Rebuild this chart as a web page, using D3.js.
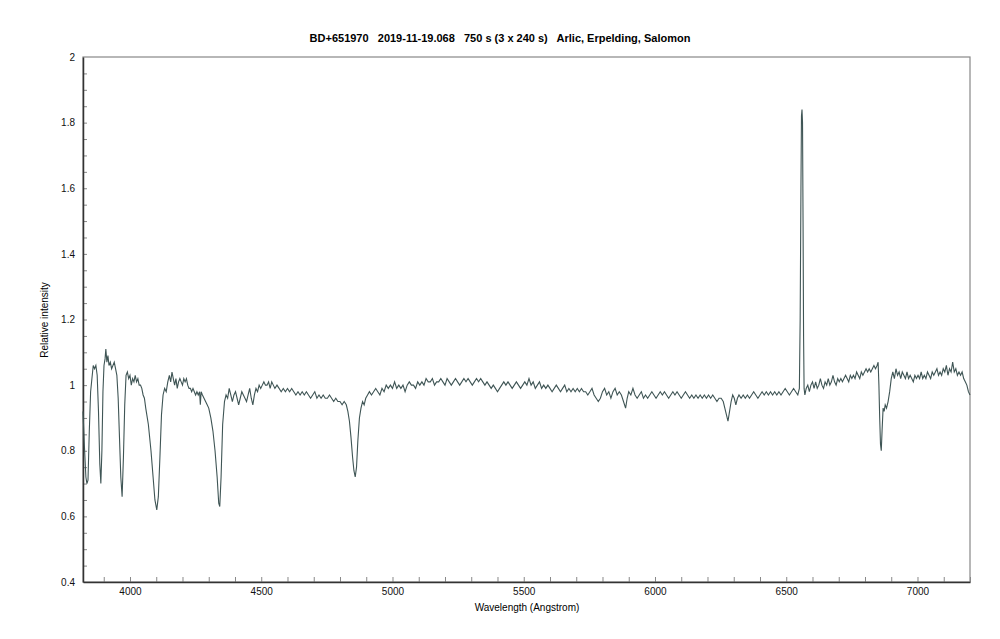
<!DOCTYPE html>
<html><head><meta charset="utf-8">
<script src="https://cdn.jsdelivr.net/npm/d3@7"></script>
<style>body{margin:0;background:#fff}text{font-family:"Liberation Sans",Arial,sans-serif}</style>
</head><body><div id="chart"></div>
<script>
const title = "BD+651970   2019-11-19.068   750 s (3 x 240 s)   Arlic, Erpelding, Salomon";
const xLabel = "Wavelength (Angstrom)";
const yLabel = "Relative intensity";
const xTicks = [4000, 4500, 5000, 5500, 6000, 6500, 7000];
const yTicks = [0.4, 0.6, 0.8, 1, 1.2, 1.4, 1.6, 1.8, 2];
// [wavelength, relative intensity]
const blueSpectrum = [
[3821,0.92],[3826,0.82],[3832,0.72],[3836,0.70],[3840,0.71],[3845,0.86],[3850,0.98],[3855,1.02],[3860,1.06],[3865,1.05],
[3870,1.06],[3875,1.03],[3880,0.92],[3885,0.76],[3889,0.70],[3893,0.80],[3897,0.98],[3901,1.06],[3905,1.08],[3908,1.11],
[3912,1.07],[3916,1.09],[3920,1.06],[3925,1.07],[3930,1.05],[3935,1.06],[3940,1.07],[3945,1.05],[3950,1.03],[3955,0.96],
[3960,0.84],[3965,0.72],[3970,0.66],[3975,0.78],[3980,0.94],[3985,1.03],[3990,1.04],[3995,1.02],[4000,1.03],[4005,1.00],
[4010,1.02],[4015,1.01],[4020,1.03],[4025,1.01],[4030,1.02],[4035,1.00],[4040,1.00],[4045,0.99],[4050,0.97],[4055,0.96],
[4060,0.93],[4070,0.88],[4080,0.80],[4088,0.72],[4095,0.65],[4102,0.62],[4108,0.66],[4114,0.78],[4120,0.91],[4126,0.97],
[4132,0.99],[4138,0.98],[4144,1.01],[4150,1.03],[4155,1.01],[4160,1.04],[4165,1.02],[4170,1.00],[4175,1.02],[4180,0.99],
[4185,1.01],[4190,1.02],[4195,1.01],[4200,1.00],[4205,1.02],[4210,1.01],[4215,1.02],[4220,1.00],[4225,0.99],[4230,0.99],
[4235,0.98],[4240,0.99],[4245,0.98],[4250,0.97],[4255,0.98],[4260,0.97],[4265,0.98],[4268,0.94],[4271,0.98],[4276,0.97],
[4282,0.96],[4288,0.95],[4294,0.94],[4300,0.93],[4308,0.90],[4316,0.86],[4324,0.80],[4332,0.72],[4338,0.64],[4342,0.63],
[4347,0.72],[4353,0.88],[4360,0.95],[4366,0.97],[4372,0.96],[4378,0.99],[4384,0.97],[4390,0.95],[4396,0.97],[4402,0.98],
[4408,0.96],[4414,0.94],[4420,0.96],[4426,0.98],[4432,0.97],[4438,0.96],[4444,0.95],[4450,0.97],[4456,0.99],[4462,0.96],
[4468,0.94],[4474,0.97],[4480,0.99],[4486,0.98],[4492,1.00],[4498,0.99],[4504,1.00],[4510,1.01],[4516,1.00],[4522,1.00],
[4528,1.01],[4534,0.99],[4540,1.01],[4546,1.00],[4552,0.99],[4560,1.00],[4568,0.99],[4576,0.98],[4584,0.99],[4592,0.98],
[4600,0.99],[4608,0.98],[4616,0.99],[4624,0.98],[4632,0.97],[4640,0.98],[4648,0.97],[4656,0.98],[4664,0.97],[4672,0.98],
[4680,0.97],[4688,0.96],[4696,0.97],[4704,0.98],[4712,0.96],[4720,0.97],[4728,0.96],[4736,0.97],[4744,0.96],[4752,0.96],
[4760,0.97],[4768,0.96],[4776,0.95],[4784,0.96],[4792,0.95],[4800,0.95],[4808,0.94],[4816,0.95],[4824,0.94],[4830,0.92],
[4836,0.89],[4842,0.84],[4848,0.78],[4853,0.74],[4858,0.72],[4863,0.75],[4868,0.83],[4874,0.90],[4880,0.93],[4886,0.95],
[4892,0.94],[4898,0.96]
];
const redSpectrum = [
[4905,0.97],[4912,0.98],[4920,0.97],[4928,0.98],[4936,0.99],[4944,0.98],[4952,0.97],[4960,0.99],[4968,0.98],[4976,1.00],
[4984,0.99],[4992,1.00],[5000,0.99],[5008,1.01],[5016,0.99],[5024,1.00],[5032,0.99],[5040,1.00],[5048,0.98],[5056,1.00],
[5064,1.01],[5072,1.00],[5080,1.00],[5088,0.99],[5096,1.01],[5104,1.00],[5112,1.01],[5120,1.00],[5128,1.02],[5136,1.01],
[5144,1.01],[5152,1.02],[5160,1.00],[5168,1.01],[5176,1.01],[5184,1.02],[5192,1.01],[5200,1.00],[5208,1.02],[5216,1.01],
[5224,1.00],[5232,1.01],[5240,1.02],[5248,1.01],[5256,1.00],[5264,1.01],[5272,1.02],[5280,1.01],[5288,1.02],[5296,1.01],
[5304,1.00],[5312,1.01],[5320,1.02],[5328,1.01],[5336,1.02],[5344,1.01],[5352,1.00],[5360,1.01],[5368,1.00],[5376,0.99],
[5384,1.00],[5392,0.99],[5400,0.98],[5408,0.99],[5416,1.00],[5424,1.01],[5432,1.00],[5440,1.01],[5448,1.00],[5456,0.99],
[5464,1.00],[5472,1.01],[5480,1.00],[5488,0.99],[5496,1.00],[5504,1.01],[5512,1.00],[5520,1.02],[5528,1.00],[5536,1.01],
[5544,0.99],[5552,1.00],[5560,1.01],[5568,0.99],[5576,1.00],[5584,0.99],[5592,1.00],[5600,0.99],[5608,0.98],[5616,0.99],
[5624,1.00],[5632,0.99],[5640,0.98],[5648,0.99],[5656,1.00],[5664,0.98],[5672,0.99],[5680,0.98],[5688,0.99],[5696,0.98],
[5704,0.99],[5712,0.98],[5720,0.99],[5728,0.98],[5736,0.98],[5744,0.97],[5752,0.98],[5760,0.99],[5768,0.97],[5776,0.96],
[5784,0.95],[5792,0.96],[5800,0.98],[5808,0.99],[5816,0.97],[5824,0.98],[5832,0.96],[5840,0.98],[5848,0.99],[5856,0.97],
[5864,0.98],[5872,0.97],[5880,0.95],[5888,0.93],[5894,0.96],[5900,0.98],[5908,0.97],[5916,0.99],[5924,0.97],[5932,0.96],
[5940,0.97],[5948,0.98],[5956,0.96],[5964,0.97],[5972,0.96],[5980,0.97],[5988,0.98],[5996,0.97],[6004,0.96],[6012,0.97],
[6020,0.98],[6028,0.97],[6036,0.98],[6044,0.97],[6052,0.96],[6060,0.97],[6068,0.98],[6076,0.97],[6084,0.98],[6092,0.97],
[6100,0.96],[6108,0.97],[6116,0.98],[6124,0.97],[6132,0.96],[6140,0.97],[6148,0.96],[6156,0.97],[6164,0.96],[6172,0.97],
[6180,0.96],[6188,0.97],[6196,0.96],[6204,0.97],[6212,0.96],[6220,0.97],[6228,0.96],[6236,0.95],[6244,0.96],[6252,0.96],
[6260,0.95],[6266,0.93],[6272,0.91],[6278,0.89],[6284,0.92],[6290,0.95],[6296,0.97],[6302,0.96],[6308,0.94],[6314,0.96],
[6320,0.97],[6328,0.96],[6336,0.97],[6344,0.96],[6352,0.97],[6360,0.96],[6368,0.97],[6376,0.98],[6384,0.97],[6392,0.96],
[6400,0.97],[6408,0.98],[6416,0.97],[6424,0.98],[6432,0.97],[6440,0.98],[6448,0.97],[6456,0.98],[6464,0.97],[6472,0.98],
[6480,0.97],[6488,0.98],[6496,0.99],[6504,0.98],[6512,0.97],[6520,0.98],[6528,0.99],[6536,0.98],[6544,0.97],[6550,0.99],
[6553,1.20],[6556,1.60],[6558,1.82],[6560,1.84],[6562,1.80],[6564,1.50],[6566,1.15],[6568,0.99],[6571,0.97],[6576,0.99],
[6582,1.00],[6588,0.98],[6594,1.00],[6600,1.01],[6606,0.99],[6612,1.01],[6618,0.99],[6624,1.00],[6630,1.02],[6636,1.00],
[6642,0.99],[6648,1.01],[6654,1.00],[6660,1.02],[6666,1.00],[6672,1.01],[6678,1.03],[6684,1.01],[6690,1.00],[6696,1.02],
[6702,1.01],[6708,1.02],[6714,1.01],[6720,1.02],[6726,1.03],[6732,1.02],[6738,1.01],[6744,1.03],[6750,1.02],[6756,1.03],
[6762,1.02],[6768,1.04],[6774,1.03],[6780,1.02],[6786,1.04],[6792,1.03],[6798,1.04],[6804,1.05],[6810,1.04],[6816,1.05],
[6822,1.04],[6828,1.05],[6834,1.06],[6840,1.05],[6846,1.06],[6850,1.07],[6853,1.00],[6856,0.90],[6859,0.82],[6862,0.80],
[6865,0.86],[6869,0.93],[6873,0.92],[6877,0.94],[6882,0.93],[6888,0.95],[6894,0.98],[6900,1.02],[6906,1.04],[6912,1.02],
[6918,1.05],[6924,1.03],[6930,1.04],[6936,1.02],[6942,1.04],[6948,1.03],[6954,1.02],[6960,1.04],[6966,1.02],[6972,1.03],
[6978,1.02],[6984,1.01],[6990,1.03],[6996,1.02],[7002,1.03],[7008,1.02],[7014,1.04],[7020,1.02],[7026,1.03],[7032,1.02],
[7038,1.04],[7044,1.03],[7050,1.02],[7056,1.04],[7062,1.03],[7068,1.04],[7074,1.05],[7080,1.03],[7086,1.04],[7092,1.03],
[7098,1.05],[7104,1.04],[7110,1.06],[7116,1.03],[7122,1.05],[7128,1.04],[7134,1.07],[7140,1.04],[7146,1.05],[7152,1.03],
[7158,1.04],[7164,1.03],[7170,1.04],[7176,1.02],[7182,1.01],[7188,1.00],[7194,0.98],[7200,0.97]
];
const spectrum = blueSpectrum.concat(redSpectrum);

const W = 1000, H = 639, m = {top:57, right:30, bottom:57, left:83};
const svg = d3.select("#chart").append("svg").attr("width", W).attr("height", H);
const x = d3.scaleLinear().domain([3821, 7200]).range([m.left, W - m.right]);
const y = d3.scaleLinear().domain([0.4, 2]).range([H - m.bottom, m.top]);

svg.append("rect").attr("x", m.left).attr("y", m.top)
  .attr("width", W - m.left - m.right).attr("height", H - m.top - m.bottom)
  .attr("fill", "none").attr("stroke", "#888").attr("stroke-width", 1.2);

const xa = svg.append("g").attr("transform", `translate(0,${H - m.bottom})`)
  .call(d3.axisTop(x).tickValues(d3.range(3900, 7201, 100)).tickSize(5).tickFormat(""));
const xl = svg.append("g").attr("transform", `translate(0,${H - m.bottom})`)
  .call(d3.axisBottom(x).tickValues(xTicks).tickSize(0).tickPadding(6).tickFormat(d3.format("d")));
const ya = svg.append("g").attr("transform", `translate(${m.left},0)`)
  .call(d3.axisRight(y).tickValues(d3.range(0.45, 2, 0.05)).tickSize(4).tickFormat(""));
const yl = svg.append("g").attr("transform", `translate(${m.left},0)`)
  .call(d3.axisLeft(y).tickValues(yTicks).tickSize(0).tickPadding(8).tickFormat(d => String(+d.toFixed(1))));
[xa, ya].forEach(g => { g.select(".domain").remove(); g.selectAll("line").attr("stroke", "#888"); });
xl.select(".domain").attr("stroke", "#333").attr("stroke-width", 1.5);
yl.select(".domain").attr("stroke", "#333").attr("stroke-width", 1.5);
[xl, yl].forEach(g => g.selectAll("text").attr("font-size", 10).attr("fill", "#111").attr("font-family", "Liberation Sans, Arial"));

svg.append("path").datum(spectrum)
  .attr("fill", "none").attr("stroke", "#3f5555").attr("stroke-width", 1.1)
  .attr("d", d3.line().x(d => x(d[0])).y(d => y(d[1])));

svg.append("text").attr("x", 500).attr("y", 42).attr("text-anchor", "middle")
  .attr("font-size", 11).attr("font-weight", "bold").style("white-space", "pre").text(title);
svg.append("text").attr("x", 527).attr("y", 611).attr("text-anchor", "middle").attr("font-size", 10).text(xLabel);
svg.append("text").attr("transform", "translate(48,320) rotate(-90)").attr("text-anchor", "middle").attr("font-size", 10).text(yLabel);
</script></body></html>
